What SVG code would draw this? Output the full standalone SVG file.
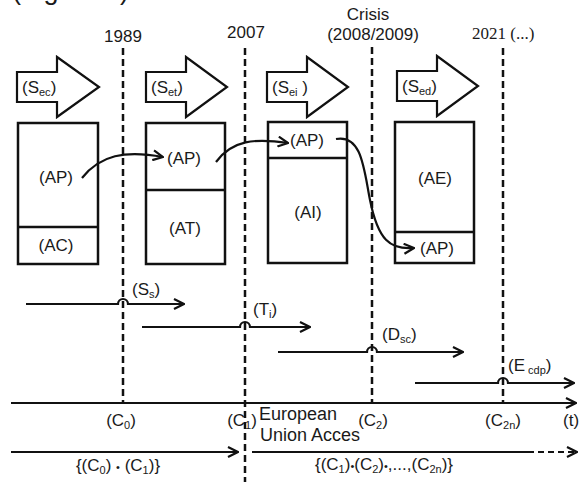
<svg xmlns="http://www.w3.org/2000/svg" width="580" height="482" viewBox="0 0 580 482">
<defs>
<style>
text{font-family:"Liberation Sans",Arial,sans-serif;font-size:17px;fill:#1a1a1a}
.serif{font-family:"Liberation Serif","Times New Roman",serif}
.sub{font-size:11px}
.c{text-anchor:middle}
.box{fill:#fff;stroke:#111;stroke-width:2.5}
.barrow{fill:#fff;stroke:#111;stroke-width:2.2;stroke-linejoin:miter}
.dash{stroke:#111;stroke-width:2.5;stroke-dasharray:7,4;fill:none}
.ln{stroke:#111;stroke-width:2.2;fill:none}
</style>
<marker id="ah" viewBox="0 0 12 12" refX="11" refY="6" markerWidth="12" markerHeight="12" markerUnits="userSpaceOnUse" orient="auto">
<path d="M1,1 L11,6 L1,11" fill="none" stroke="#111" stroke-width="2.2"/>
</marker>
</defs>
<rect width="580" height="482" fill="#fff"/>
<text x="12" y="-1" style="font-size:27px">(Figure 2)</text>

<g id="years">
<text x="123" y="42" class="c">1989</text>
<text x="246" y="38" class="c">2007</text>
<text x="368" y="20" class="c">Crisis</text>
<text x="373" y="40" class="c">(2008/2009)</text>
<text x="472" y="39" class="serif">2021 (...)</text>
</g>

<g id="stage-arrows">
<g id="s-ec"><polygon class="barrow" points="17,72 57,72 57,57 99,87 57,117 57,102 17,102"/><text x="22" y="93">(S<tspan class="sub" dy="3">ec</tspan><tspan dy="-3">)</tspan></text></g>
<g id="s-et"><polygon class="barrow" points="146,72 186,72 186,57 227,87 186,117 186,102 146,102"/><text x="151" y="93">(S<tspan class="sub" dy="3">et</tspan><tspan dy="-3">)</tspan></text></g>
<g id="s-ei"><polygon class="barrow" points="267,72 307,72 307,57 348,87 307,117 307,102 267,102"/><text x="272" y="93">(S<tspan class="sub" dy="3">ei</tspan><tspan dy="-3"> )</tspan></text></g>
<g id="s-ed"><polygon class="barrow" points="397,71 437,71 437,56 478,86 437,116 437,101 397,101"/><text x="402" y="92">(S<tspan class="sub" dy="3">ed</tspan><tspan dy="-3">)</tspan></text></g>
</g>

<g id="dashed">
<line class="dash" x1="123" y1="48" x2="123" y2="403"/>
<line class="dash" x1="245" y1="48" x2="245" y2="482"/>
<line class="dash" x1="372" y1="47" x2="372" y2="403"/>
<line class="dash" x1="503" y1="48" x2="503" y2="403"/>
</g>

<g id="box1"><rect class="box" x="18" y="123" width="80" height="141"/><line class="ln" x1="18" y1="227" x2="98" y2="227" style="stroke-width:2.5"/><text x="56" y="183" class="c">(AP)</text><text x="56" y="251" class="c">(AC)</text></g>
<g id="box2"><rect class="box" x="146" y="123" width="79" height="141"/><line class="ln" x1="146" y1="190" x2="225" y2="190" style="stroke-width:2.5"/><text x="184" y="164" class="c">(AP)</text><text x="185" y="234" class="c">(AT)</text></g>
<g id="box3"><rect class="box" x="268" y="122" width="79" height="141"/><line class="ln" x1="268" y1="158" x2="347" y2="158" style="stroke-width:2.5"/><text x="307" y="146" class="c">(AP)</text><text x="308" y="218" class="c">(AI)</text></g>
<g id="box4"><rect class="box" x="395" y="122" width="79" height="141"/><line class="ln" x1="395" y1="232" x2="474" y2="232" style="stroke-width:2.5"/><text x="435" y="184" class="c">(AE)</text><text x="437" y="254" class="c">(AP)</text></g>

<g id="connectors">
<path class="ln" d="M82,178 C100,155 125,150 163,157" marker-end="url(#ah)"/>
<path class="ln" d="M216,162 C232,140 255,138 288,143" marker-end="url(#ah)"/>
<path class="ln" d="M336,139 C362,134 364,170 370,200 C378,240 390,250 414,248" marker-end="url(#ah)"/>

<path class="ln" d="M26,304 H118 A5,5 0 0 1 128,304 H184" marker-end="url(#ah)"/>
<path class="ln" d="M142,327 H240 A5,5 0 0 1 250,327 H310" marker-end="url(#ah)"/>
<path class="ln" d="M278,352 H367 A5,5 0 0 1 377,352 H463" marker-end="url(#ah)"/>
<path class="ln" d="M415,383 H498 A5,5 0 0 1 508,383 H574" marker-end="url(#ah)"/>

<path class="ln" d="M11,403 H576" marker-end="url(#ah)"/>
<path class="ln" d="M11,452 H238" marker-end="url(#ah)"/>
<path class="ln" d="M252,452 H528"/>
<path class="ln" d="M528,452 H577" style="stroke-dasharray:6,4" marker-end="url(#ah)"/>
</g>

<g id="labels">
<text x="132" y="295">(S<tspan class="sub" dy="3">s</tspan><tspan dy="-3">)</tspan></text>
<text x="253" y="315">(T<tspan class="sub" dy="3">i</tspan><tspan dy="-3">)</tspan></text>
<text x="382" y="340">(D<tspan class="sub" dy="3">sc</tspan><tspan dy="-3">)</tspan></text>
<text x="508" y="371">(E<tspan class="sub" dy="3"> cdp</tspan><tspan dy="-3">)</tspan></text>

<text x="121" y="426" class="c">(C<tspan class="sub" dy="3">0</tspan><tspan dy="-3">)</tspan></text>
<text x="242" y="426" class="c">(C<tspan class="sub" dy="3">1</tspan><tspan dy="-3">)</tspan></text>
<text x="259" y="420" style="font-size:18px">European</text>
<text x="260" y="441" style="font-size:18px">Union Acces</text>
<text x="373" y="426" class="c">(C<tspan class="sub" dy="3">2</tspan><tspan dy="-3">)</tspan></text>
<text x="503" y="426" class="c">(C<tspan class="sub" dy="3">2n</tspan><tspan dy="-3">)</tspan></text>
<text x="563" y="426">(t)</text>

<text x="118" y="471" class="c">{(C<tspan class="sub" dy="3">0</tspan><tspan dy="-3">) </tspan><tspan class="sub">•</tspan> (C<tspan class="sub" dy="3">1</tspan><tspan dy="-3">)}</tspan></text>
<text x="384" y="470" class="c">{(C<tspan class="sub" dy="3">1</tspan><tspan dy="-3">)</tspan><tspan class="sub">•</tspan>(C<tspan class="sub" dy="3">2</tspan><tspan dy="-3">)</tspan><tspan class="sub">•</tspan>,...,(C<tspan class="sub" dy="3">2n</tspan><tspan dy="-3">)}</tspan></text>
</g>
</svg>
